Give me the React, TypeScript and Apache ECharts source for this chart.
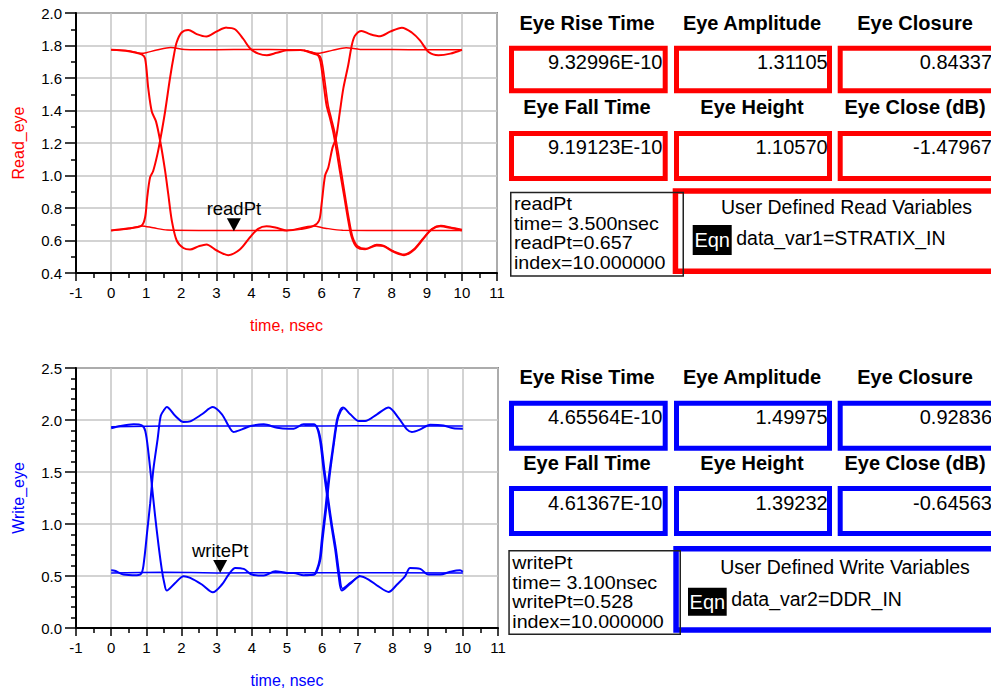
import React, { useEffect, useRef } from "react";
import * as echarts from "echarts";

// ---------- data ----------
const readTraceA: number[][] = [
  [0, 0.662], [0.5, 0.675], [0.87, 0.692], [0.97, 0.743], [1.03, 0.865], [1.11, 0.987], [1.2, 1.028],
  [1.32, 1.13], [1.41, 1.23], [1.54, 1.394], [1.68, 1.6], [1.79, 1.74], [1.87, 1.82], [2.01, 1.88],
  [2.2, 1.896], [2.44, 1.87], [2.72, 1.855], [3.0, 1.885], [3.29, 1.91], [3.53, 1.9], [3.77, 1.84],
  [3.97, 1.78], [4.2, 1.75], [4.44, 1.74], [4.72, 1.755], [5.0, 1.77], [5.4, 1.772], [5.76, 1.75],
  [5.9, 1.74], [5.97, 1.7], [6.05, 1.577], [6.14, 1.434], [6.24, 1.353], [6.33, 1.27], [6.43, 1.15],
  [6.52, 1.028], [6.65, 0.865], [6.76, 0.723], [6.86, 0.62], [7.0, 0.56], [7.24, 0.546], [7.57, 0.57],
  [7.76, 0.566], [8.05, 0.53], [8.35, 0.51], [8.62, 0.54], [8.9, 0.61], [9.14, 0.668], [9.38, 0.688],
  [9.67, 0.678], [10, 0.662],
];
const readTraceA2: number[][] = [
  [5.5, 1.77], [5.8, 1.752], [5.95, 1.735], [6.02, 1.69], [6.1, 1.57], [6.19, 1.43], [6.28, 1.35],
  [6.37, 1.27], [6.47, 1.15], [6.56, 1.028], [6.68, 0.865], [6.79, 0.723], [6.89, 0.62], [7.03, 0.565],
  [7.26, 0.55], [7.57, 0.575], [7.76, 0.57], [8.05, 0.535], [8.35, 0.515], [8.62, 0.545], [8.9, 0.615],
  [9.14, 0.672], [9.4, 0.692], [9.7, 0.68], [10, 0.668],
];
const readTraceB: number[][] = [
  [0, 1.774], [0.5, 1.765], [0.87, 1.745], [0.97, 1.72], [1.06, 1.536], [1.16, 1.394], [1.28, 1.333],
  [1.41, 1.2], [1.54, 1.028], [1.63, 0.885], [1.73, 0.723], [1.87, 0.6], [2.06, 0.554], [2.25, 0.544],
  [2.49, 0.564], [2.72, 0.576], [3.0, 0.54], [3.34, 0.51], [3.67, 0.544], [3.96, 0.62], [4.19, 0.672],
  [4.43, 0.688], [4.72, 0.678], [5.0, 0.662], [5.4, 0.67], [5.76, 0.688], [5.93, 0.723], [6.0, 0.824],
  [6.1, 1.0], [6.19, 1.048], [6.31, 1.17], [6.41, 1.23], [6.52, 1.39], [6.62, 1.536], [6.76, 1.68],
  [6.86, 1.8], [6.95, 1.86], [7.14, 1.89], [7.38, 1.87], [7.67, 1.857], [7.95, 1.885], [8.29, 1.91],
  [8.57, 1.88], [8.81, 1.83], [9.05, 1.76], [9.33, 1.74], [9.67, 1.75], [10, 1.774],
];
const readHigh: number[][] = [
  [0, 1.774], [0.5, 1.768], [0.87, 1.752], [1.0, 1.756], [1.3, 1.772], [1.7, 1.788], [2.1, 1.776],
  [3, 1.774], [4, 1.776], [5, 1.774], [5.5, 1.77], [5.9, 1.752], [6.3, 1.77], [6.7, 1.786], [7.1, 1.776],
  [8, 1.775], [9, 1.774], [10, 1.774],
];
const readLow: number[][] = [
  [0, 0.662], [0.5, 0.672], [0.87, 0.69], [1.2, 0.678], [1.6, 0.664], [2.5, 0.662], [4, 0.662],
  [5, 0.662], [5.76, 0.69], [6.1, 0.676], [6.6, 0.663], [8, 0.662], [10, 0.662],
];

const writeTraceA: number[][] = [
  [0, 0.555], [0.1, 0.55], [0.35, 0.514], [0.73, 0.507], [0.87, 0.53], [0.94, 0.66], [1.02, 0.915],
  [1.11, 1.2], [1.2, 1.525], [1.32, 1.814], [1.41, 2.04], [1.51, 2.1], [1.58, 2.125], [1.82, 2.04],
  [2.06, 1.98], [2.25, 1.987], [2.58, 2.055], [2.89, 2.125], [3.15, 2.055], [3.34, 1.942], [3.48, 1.885],
  [3.72, 1.91], [3.96, 1.942], [4.34, 1.958], [4.72, 1.926], [5.05, 1.917], [5.19, 1.917], [5.47, 1.958],
  [5.76, 1.958], [5.87, 1.91], [5.95, 1.78], [6.04, 1.525], [6.14, 1.27], [6.25, 1.01], [6.37, 0.755],
  [6.47, 0.5], [6.56, 0.36], [6.8, 0.427], [7.08, 0.498], [7.32, 0.466], [7.6, 0.4], [7.89, 0.347],
  [8.13, 0.418], [8.36, 0.498], [8.5, 0.578], [8.79, 0.568], [9.02, 0.514], [9.36, 0.514], [9.64, 0.54],
  [9.92, 0.555], [10, 0.54],
];
const writeTraceA2: number[][] = [
  [5.5, 1.95], [5.78, 1.955], [5.9, 1.9], [5.98, 1.77], [6.07, 1.52], [6.17, 1.26], [6.28, 1.0],
  [6.4, 0.75], [6.5, 0.5], [6.58, 0.38], [6.8, 0.435], [7.08, 0.505],
];
const writeTraceB: number[][] = [
  [0, 1.92], [0.26, 1.942], [0.64, 1.958], [0.87, 1.948], [0.97, 1.894], [1.06, 1.685], [1.16, 1.364],
  [1.25, 1.075], [1.35, 0.787], [1.44, 0.562], [1.51, 0.433], [1.58, 0.36], [1.82, 0.433], [2.06, 0.498],
  [2.25, 0.482], [2.58, 0.418], [2.89, 0.343], [3.15, 0.418], [3.34, 0.514], [3.53, 0.578], [3.77, 0.568],
  [4.0, 0.514], [4.34, 0.504], [4.67, 0.546], [5.0, 0.53], [5.19, 0.53], [5.47, 0.507], [5.76, 0.514],
  [5.85, 0.562], [5.93, 0.66], [5.99, 0.851], [6.09, 1.14], [6.18, 1.43], [6.31, 1.75], [6.42, 2.0],
  [6.52, 2.1], [6.59, 2.12], [6.8, 2.055], [7.04, 1.99], [7.22, 1.99], [7.56, 2.055], [7.89, 2.12],
  [8.17, 2.02], [8.41, 1.91], [8.55, 1.885], [8.79, 1.91], [9.07, 1.955], [9.45, 1.948], [9.73, 1.92],
  [10, 1.917],
];
const writeTraceB2: number[][] = [
  [5.5, 0.51], [5.78, 0.512], [5.88, 0.57], [5.96, 0.67], [6.02, 0.86], [6.12, 1.15], [6.21, 1.44],
  [6.33, 1.75], [6.44, 2.0], [6.54, 2.09], [6.6, 2.11],
];
const writeHigh: number[][] = [[0, 1.935], [1, 1.94], [2, 1.942], [5, 1.942], [7, 1.944], [10, 1.942]];
const writeLow: number[][] = [[0, 0.53], [1.5, 0.535], [3, 0.53], [6.5, 0.532], [10, 0.528]];

const readMarker = { name: "readPt", time: 3.5, value: 0.657 };
const writeMarker = { name: "writePt", time: 3.1, value: 0.528 };

const headers = ["Eye Rise Time", "Eye Amplitude", "Eye Closure", "Eye Fall Time", "Eye Height", "Eye Close (dB)"];
const readValues = ["9.32996E-10", "1.31105", "0.84337", "9.19123E-10", "1.10570", "-1.47967"];
const writeValues = ["4.65564E-10", "1.49975", "0.92836", "4.61367E-10", "1.39232", "-0.64563"];
const readMarkerLines = ["readPt", "time= 3.500nsec", "readPt=0.657", "index=10.000000"];
const writeMarkerLines = ["writePt", "time= 3.100nsec", "writePt=0.528", "index=10.000000"];
const readVarTitle = "User Defined Read Variables";
const writeVarTitle = "User Defined Write Variables";
const readEqn = "data_var1=STRATIX_IN";
const writeEqn = "data_var2=DDR_IN";

const RED = "#ff0000";
const BLUE = "#0000ff";
const FONT = "'Liberation Sans', Arial, Helvetica, sans-serif";

function box(x0: number, y0: number, x1: number, y1: number, lw: number, color: string, fill = "rgba(0,0,0,0)", z = 5) {
  return {
    type: "rect",
    z,
    shape: { x: x0 + lw / 2, y: y0 + lw / 2, width: x1 - x0 - lw, height: y1 - y0 - lw },
    style: { fill, stroke: lw > 0 ? color : null, lineWidth: lw },
  };
}
function txt(x: number, y: number, text: string, opts: any = {}) {
  const el: any = {
    type: "text",
    x,
    y,
    z: 10,
    style: {
      text,
      fill: opts.fill || "#000",
      fontSize: opts.fontSize || 20,
      fontWeight: opts.fontWeight || "normal",
      fontFamily: FONT,
      align: opts.align || "left",
      verticalAlign: "middle",
    },
  };
  if (opts.scaleX) el.scaleX = opts.scaleX;
  return el;
}

function panel(color: string, values: string[], mlines: string[], title: string, eqn: string, g: any) {
  const els: any[] = [];
  const cx = [587, 752, 915];
  const rx = [662.5, 827.7, 992];
  const bx = [[509, 667.7], [674, 832], [837.7, 996]];
  for (let i = 0; i < 3; i++) {
    els.push(txt(cx[i], g.h1, headers[i], { align: "center", fontWeight: "bold" }));
    els.push(txt(cx[i], g.h2, headers[i + 3], { align: "center", fontWeight: "bold" }));
    els.push(box(bx[i][0], g.r1[0], bx[i][1], g.r1[1], 5, color));
    els.push(box(bx[i][0], g.r2[0], bx[i][1], g.r2[1], 5, color));
    els.push(txt(rx[i], g.v1, values[i], { align: "right" }));
    els.push(txt(rx[i], g.v2, values[i + 3], { align: "right" }));
  }
  els.push(box(g.u[0], g.u[1], 1000, g.u[2], 5.5, color));
  els.push(box(g.m[0], g.m[1], g.m[2], g.m[3], 1.5, "#222", "rgba(0,0,0,0)", 7));
  mlines.forEach((l, i) =>
    els.push(txt(g.m[0] + 4, g.ml0 + i * 19.5, l, { fontSize: 17.5, scaleX: 1.125 }))
  );
  els.push(txt(g.tx, g.ty, title, { align: "center", fontSize: 19.5 }));
  els.push(box(g.e[0], g.e[1], g.e[2], g.e[3], 0, "#000", "#000"));
  els.push(txt((g.e[0] + g.e[2]) / 2, (g.e[1] + g.e[3]) / 2, "Eqn", { align: "center", fill: "#fff", fontSize: 20 }));
  els.push(txt(g.e[2] + 4.5, g.ey, eqn, { fontSize: 19.5 }));
  return els;
}

export default function App() {
  const ref = useRef<HTMLDivElement>(null);
  useEffect(() => {
    if (!ref.current) return;
    const chart = echarts.init(ref.current, null, { renderer: "svg" });

    const xAxisBase = (gridIndex: number, color: string) => ({
      type: "value",
      gridIndex,
      min: -1,
      max: 11,
      interval: 1,
      name: "time, nsec",
      nameLocation: "middle",
      nameGap: 44,
      nameTextStyle: { color, fontSize: 16, fontFamily: FONT },
      axisLine: { show: true, onZero: false, lineStyle: { color: "#000", width: 2 } },
      axisTick: { show: true, length: 8, lineStyle: { color: "#000", width: 1.5 } },
      minorTick: { show: true, splitNumber: 2, length: 5, lineStyle: { color: "#000", width: 1.5 } },
      axisLabel: { color: "#000", fontSize: 15, fontFamily: FONT, margin: 12 },
      splitLine: { show: true, lineStyle: { color: "#c4c4c4", width: 1.5 } },
    });
    const yAxisBase = (gridIndex: number, color: string, name: string, min: number, max: number, interval: number, minorSplit: number) => ({
      type: "value",
      gridIndex,
      min,
      max,
      interval,
      name,
      nameLocation: "middle",
      nameGap: 50,
      nameTextStyle: { color, fontSize: 16, fontFamily: FONT },
      axisLine: { show: true, onZero: false, lineStyle: { color: "#000", width: 2 } },
      axisTick: { show: true, length: 11, lineStyle: { color: "#000", width: 1.5 } },
      minorTick: { show: true, splitNumber: minorSplit, length: 5, lineStyle: { color: "#000", width: 1.5 } },
      axisLabel: { color: "#000", fontSize: 15, fontFamily: FONT, margin: 14, formatter: (v: number) => v.toFixed(1) },
      splitLine: { show: true, lineStyle: { color: "#c4c4c4", width: 1.5 } },
    });

    const line = (data: number[][], idx: number, color: string, width: number) => ({
      type: "line",
      xAxisIndex: idx,
      yAxisIndex: idx,
      data,
      showSymbol: false,
      symbol: "none",
      smooth: 0.3,
      lineStyle: { color, width },
      silent: true,
      z: 3,
    });
    const marker = (m: { name: string; time: number; value: number }, idx: number) => ({
      type: "scatter",
      xAxisIndex: idx,
      yAxisIndex: idx,
      data: [[m.time, m.value]],
      symbol: "triangle",
      symbolRotate: 180,
      symbolSize: [14, 13],
      symbolOffset: [0, -6.5],
      itemStyle: { color: "#000", opacity: 1 },
      label: { show: true, formatter: m.name, position: "top", distance: 0, color: "#000", fontSize: 18.5, fontFamily: FONT },
      silent: true,
      z: 6,
    });

    const gTop = {
      h1: 22.7, h2: 107.3, v1: 61.7, v2: 146.7,
      r1: [45.7, 93.3], r2: [131, 181],
      u: [672.7, 188.3, 274], m: [510, 191.7, 684, 276.7], ml0: 204,
      tx: 846.5, ty: 207, e: [692.7, 225, 731.7, 255], ey: 238.3,
    };
    const gBot = {
      h1: 377.3, h2: 463.3, v1: 416.7, v2: 502.7,
      r1: [400.7, 450.7], r2: [486, 536],
      u: [673.3, 546, 632.7], m: [508.3, 550, 681, 635], ml0: 563,
      tx: 845, ty: 567, e: [688, 587.7, 726.7, 615.7], ey: 599.3,
    };

    chart.setOption({
      animation: false,
      textStyle: { fontFamily: FONT },
      grid: [
        { left: 76, top: 13, width: 421, height: 260, show: true, borderColor: "#333", borderWidth: 1.5, backgroundColor: "#fff" },
        { left: 76, top: 368, width: 422, height: 260, show: true, borderColor: "#333", borderWidth: 1.5, backgroundColor: "#fff" },
      ],
      xAxis: [xAxisBase(0, RED), xAxisBase(1, BLUE)],
      yAxis: [
        yAxisBase(0, RED, "Read_eye", 0.4, 2.0, 0.2, 2),
        yAxisBase(1, BLUE, "Write_eye", 0, 2.5, 0.5, 5),
      ],
      series: [
        line(readHigh, 0, RED, 1.5),
        line(readLow, 0, RED, 1.5),
        line(readTraceA, 0, RED, 2),
        line(readTraceA2, 0, RED, 1.6),
        line(readTraceB, 0, RED, 2),
        marker(readMarker, 0),
        line(writeHigh, 1, BLUE, 1.5),
        line(writeLow, 1, BLUE, 1.5),
        line(writeTraceA, 1, BLUE, 2),
        line(writeTraceA2, 1, BLUE, 1.6),
        line(writeTraceB, 1, BLUE, 2),
        line(writeTraceB2, 1, BLUE, 1.6),
        marker(writeMarker, 1),
      ],
      graphic: [
        ...panel(RED, readValues, readMarkerLines, readVarTitle, readEqn, gTop),
        ...panel(BLUE, writeValues, writeMarkerLines, writeVarTitle, writeEqn, gBot),
      ],
    });
    return () => chart.dispose();
  }, []);
  return <div ref={ref} style={{ position: "fixed", left: 0, top: 0, width: 991, height: 694, background: "#fff" }} />;
}
